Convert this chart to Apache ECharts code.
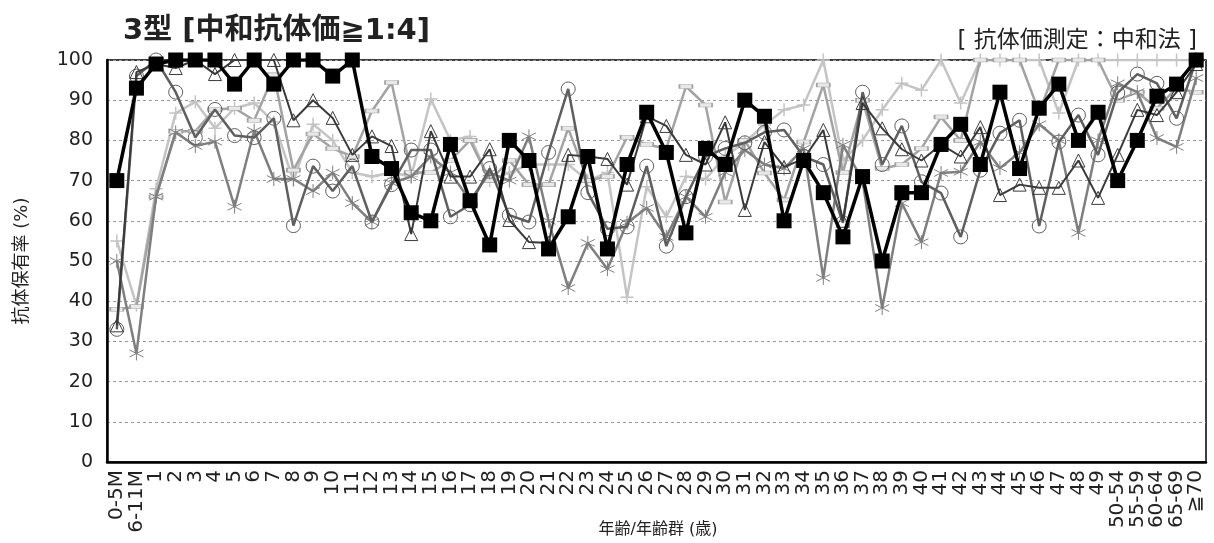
<!DOCTYPE html>
<html>
<head>
<meta charset="utf-8">
<script src="https://cdn.jsdelivr.net/npm/echarts@6/dist/echarts.min.js"></script>
<style>
html,body{margin:0;padding:0;background:#fff;}
#chart{width:1214px;height:543px;}
</style>
</head>
<body>
<div id="chart"></div>
<script>
var categories = ['0-5M','6-11M','1','2','3','4','5','6','7','8','9','10','11','12','13','14','15','16','17','18','19','20','21','22','23','24','25','26','27','28','29','30','31','32','33','34','35','36','37','38','39','40','41','42','43','44','45','46','47','48','49','50-54','55-59','60-64','65-69','≧70'];

var seriesPlus = [55,39,68,86.8,89.6,83,88,89.3,84.6,70,84,80,72,71,72,71,90.3,80,81,70,72,74,74,74,70,72,41,68.5,61,71,70.4,76,79.6,83.8,87.6,88.8,100,75,80,87.6,94.2,92.5,100,89.3,100,100,100,100,86.8,100,100,100,100,100,100,100];
var seriesDash = [38,38.6,66,82.3,82.3,87.7,88,85,96.3,72.6,81.6,78,76,87.3,94.4,72,72,75,80,70,75,69,69,83,70,71,80.8,79,78,93.4,88.8,64.7,80,71.9,65.2,79.6,93.8,72,90,73,74,78,85.8,80,100,100,100,87,100,100,100,90,92,88,93,92];
var seriesStar = [50,27,66,82,78.6,79.7,63.5,82.4,70.4,70.4,67.4,72,64.4,59.7,69.4,71,76,72,65,72,70,81,60,43.3,54.5,48,59.5,63.2,56,66,61,72,77.6,74,73,78,45.8,78.9,70,38.3,64.4,54.7,71.9,72.2,79.6,73.1,77,84,80,57,80,94.2,92,80.6,78.4,95.5];
var seriesCircle = [33,96,100,92,80.7,87.7,81.2,80.7,85.5,58.8,73.6,67.4,73.6,59.7,69,77.6,77.6,61,64,73,61.4,59.7,77,92.8,67,58,58.5,73.6,53.7,66,76,78,79.4,82,82.6,76,74,59.5,92,74,83.6,69.7,66.9,56,72.6,81.8,85,58.7,79.6,86.3,76.4,91.8,96.5,94.2,85.5,100];
var seriesTriangle = [34,97,99,98,100,96.5,100,100,100,85,90,85.6,76.4,81,78.6,56.7,82.3,71,71,77.8,60.2,54.7,54.5,76.4,76,75.4,69,86,83.6,76.4,74,84.5,62.7,79.6,73.4,75.4,82.6,60,89.3,83,77.8,75,79,76,83.3,66.4,69,68.2,68.2,75,65.7,76.4,87.6,86.3,92,99];
var seriesLatest = [70,93,99,100,100,100,94,100,94,100,100,96,100,76,73,62,60,79,65,54,80,75,53,61,76,53,74,87,77,57,78,74,90,86,60,75,67,56,71,50,67,67,79,84,74,92,73,88,94,80,87,70,80,91,94,100];

var yTicks = [0,10,20,30,40,50,60,70,80,90,100];

var FONT = '"DejaVu Sans","Noto Sans CJK JP",sans-serif';
var chart = echarts.init(document.getElementById('chart'), null, {renderer:'canvas'});

function mk(name, data, color, width, symbol, size, fill, border, bw, z){
  return {
    name: name, type: 'line', data: data, z: z,
    symbol: symbol, symbolSize: size, showSymbol: true,
    lineStyle: {color: color, width: width},
    itemStyle: {color: fill, borderColor: border, borderWidth: bw},
    emphasis: {disabled: true},
    animation: false
  };
}

var starPath = 'path://M5,0L5,10M0.7,2.5L9.3,7.5M0.7,7.5L9.3,2.5';
var plusPath = 'path://M5,0L5,10M0,5L10,5';

chart.setOption({
  animation: false,
  backgroundColor: '#fff',
  title: [
    {text: '3型 [中和抗体価≧1:4]', left: 118, top: 12,
     textStyle: {fontFamily: FONT, fontSize: 29, fontWeight: 'bold', color: '#222'}},
    {text: '[ 抗体価測定：中和法 ]', right: 12, top: 25,
     textStyle: {fontFamily: FONT, fontSize: 23, fontWeight: 'normal', color: '#222'}}
  ],
  graphic: [
    {type: 'text', x: 658, y: 530, silent: true,
     style: {text: '年齢/年齢群 (歳)', font: '16px "DejaVu Sans","Noto Sans CJK JP",sans-serif',
             fill: '#222', align: 'center', verticalAlign: 'middle'}}
  ],
  grid: {left: 107, right: 8, top: 60, bottom: 81, show: true, borderColor: '#000', borderWidth: 1.5,
         containLabel: false, outerBoundsMode: 'none'},
  xAxis: {
    type: 'category', data: categories, boundaryGap: true,
    axisLine: {lineStyle: {color: '#000', width: 2.5}},
    axisTick: {show: false},
    axisLabel: {interval: 0, rotate: 90, fontFamily: FONT, fontSize: 20, color: '#222', margin: 8}
  },
  yAxis: {
    type: 'value', min: 0, max: 100, interval: 10,
    name: '抗体保有率 (%)', nameLocation: 'middle', nameGap: 76, nameMoveOverlap: false,
    nameTextStyle: {fontFamily: FONT, fontSize: 18, color: '#222'},
    axisLine: {show: true, lineStyle: {color: '#000', width: 2.5}},
    axisTick: {show: false},
    axisLabel: {fontFamily: FONT, fontSize: 19, color: '#222', margin: 14,
      formatter: function(v){ return yTicks.indexOf(v) >= 0 ? String(v) : ''; }},
    splitLine: {show: true, lineStyle: {color: '#9a9a9a', width: 1, type: [3,3]}}
  },
  series: [
    mk('plus', seriesPlus, '#c4c4c4', 2.5, plusPath, 13, 'transparent', '#c4c4c4', 1.5, 2),
    mk('dash', seriesDash, '#a3a3a3', 2.5, 'rect', [13,4], '#e8e8e8', '#a3a3a3', 1, 3),
    mk('star', seriesStar, '#7f7f7f', 2.5, starPath, 14, 'transparent', '#7f7f7f', 1, 4),
    mk('circle', seriesCircle, '#5f5f5f', 2.5, 'circle', 14, 'transparent', '#5f5f5f', 1, 5),
    mk('triangle', seriesTriangle, '#3a3a3a', 2, 'triangle', 13, 'transparent', '#3a3a3a', 1, 6),
    mk('latest', seriesLatest, '#000', 3.5, 'rect', 15, '#000', '#000', 0, 10)
  ]
});
</script>
</body>
</html>
